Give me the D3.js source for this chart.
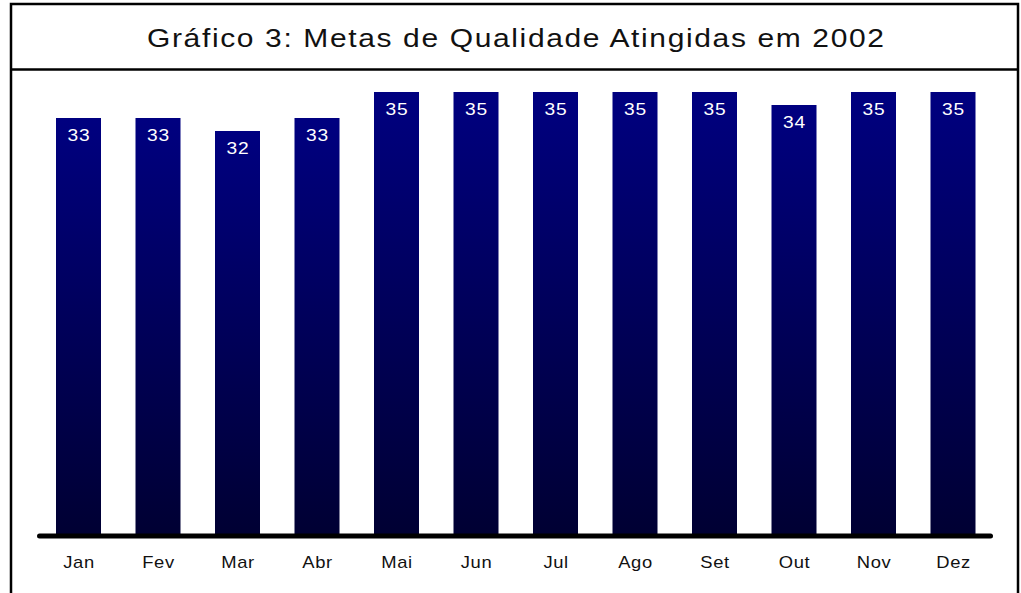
<!DOCTYPE html>
<html>
<head>
<meta charset="utf-8">
<script src="https://cdn.jsdelivr.net/npm/d3@7"></script>
<style>
  html, body { margin: 0; padding: 0; background: #fff; }
  svg { display: block; }
</style>
</head>
<body>
<svg id="chart" width="1021" height="593"></svg>
<script>
const titleText = "Gráfico 3: Metas de Qualidade Atingidas em 2002";
const months = ["Jan", "Fev", "Mar", "Abr", "Mai", "Jun", "Jul", "Ago", "Set", "Out", "Nov", "Dez"];
const values = [33, 33, 32, 33, 35, 35, 35, 35, 35, 34, 35, 35];

const svg = d3.select("#chart");
const font = "'Liberation Sans', Arial, Helvetica, sans-serif";

// gradient
const defs = svg.append("defs");
const grad = defs.append("linearGradient")
  .attr("id", "barGrad").attr("x1", 0).attr("y1", 0).attr("x2", 0).attr("y2", 1);
grad.append("stop").attr("offset", "0%").attr("stop-color", "#000080");
grad.append("stop").attr("offset", "100%").attr("stop-color", "#000033");

// frame
svg.append("rect")
  .attr("x", 11).attr("y", 4).attr("width", 1007).attr("height", 620)
  .attr("fill", "none").attr("stroke", "#000").attr("stroke-width", 2.5);
svg.append("line")
  .attr("x1", 11).attr("x2", 1018).attr("y1", 69.5).attr("y2", 69.5)
  .attr("stroke", "#000").attr("stroke-width", 2.5);

// title (horizontally stretched like the reference)
const tScale = 1.2;
svg.append("text")
  .attr("transform", `translate(515.5,47) scale(${tScale},1)`)
  .attr("text-anchor", "middle")
  .attr("font-family", font).attr("font-size", 25)
  .attr("fill", "#111")
  .attr("textLength", 737 / tScale).attr("lengthAdjust", "spacing")
  .text(titleText);

const x = d3.scaleBand()
  .domain(months)
  .range([38.75, 992.75])
  .paddingInner(0.434)
  .paddingOuter(0.217);

const y = d3.scaleLinear().domain([1, 35]).range([534, 92]);
const data = months.map((m, i) => ({ m, v: values[i] }));

svg.append("g").selectAll("rect")
  .data(data)
  .join("rect")
  .attr("x", d => x(d.m))
  .attr("width", x.bandwidth())
  .attr("y", d => y(d.v))
  .attr("height", d => y.range()[0] - y(d.v))
  .attr("fill", "url(#barGrad)");

svg.append("g").selectAll("text")
  .data(data)
  .join("text")
  .attr("transform", d => `translate(${x(d.m) + x.bandwidth() / 2 + 0.5},${y(d.v) + 23}) scale(1.2,1)`)
  .attr("text-anchor", "middle")
  .attr("font-family", font).attr("font-size", 16)
  .attr("letter-spacing", 0.6)
  .attr("fill", "#fff")
  .text(d => d.v);

// baseline
svg.append("line")
  .attr("x1", 39.5).attr("x2", 990.5).attr("y1", 536).attr("y2", 536)
  .attr("stroke", "#000").attr("stroke-width", 5).attr("stroke-linecap", "round");

// x axis labels
const xAxis = d3.axisBottom(x).tickSize(0).tickPadding(0);
const gx = svg.append("g").attr("transform", "translate(0.5,0)").call(xAxis);
gx.select(".domain").remove();
gx.selectAll("text")
  .attr("y", 0).attr("dy", null)
  .attr("transform", "translate(0,568) scale(1.15,1)")
  .attr("font-family", font).attr("font-size", 16)
  .attr("letter-spacing", 0.5)
  .attr("fill", "#111");
</script>
</body>
</html>
